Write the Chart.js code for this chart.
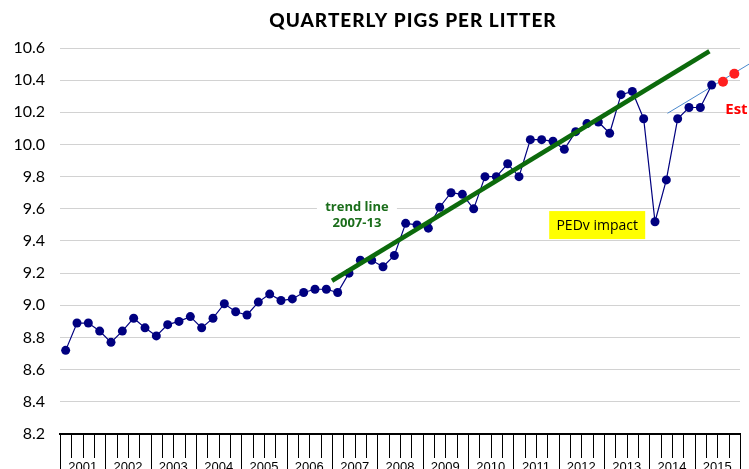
<!DOCTYPE html>
<html><head><meta charset="utf-8">
<script src="https://cdn.jsdelivr.net/npm/chart.js@4/dist/chart.umd.min.js"></script>
<style>html,body{margin:0;padding:0;background:#fff;overflow:hidden}</style>
</head><body>
<canvas id="c" width="749" height="469"></canvas>
<script>
// ---- data ----
const chartTitle = 'QUARTERLY PIGS PER LITTER';
const years = [2001,2002,2003,2004,2005,2006,2007,2008,2009,2010,2011,2012,2013,2014,2015];
// quarterly pigs per litter, 2001 Q1 .. 2015 Q2 (quarter index 0..57)
const pigsPerLitter = [
  8.72, 8.89, 8.89, 8.84,   // 2001
  8.77, 8.84, 8.92, 8.86,   // 2002
  8.81, 8.88, 8.90, 8.93,   // 2003
  8.86, 8.92, 9.01, 8.96,   // 2004
  8.94, 9.02, 9.07, 9.03,   // 2005
  9.04, 9.08, 9.10, 9.10,   // 2006
  9.08, 9.20, 9.28, 9.28,   // 2007
  9.24, 9.31, 9.51, 9.50,   // 2008
  9.48, 9.61, 9.70, 9.69,   // 2009
  9.60, 9.80, 9.80, 9.88,   // 2010
  9.80, 10.03, 10.03, 10.02,// 2011
  9.97, 10.08, 10.13, 10.14,// 2012
  10.07, 10.31, 10.33, 10.16,// 2013
  9.52, 9.78, 10.16, 10.23, // 2014
  10.23, 10.37              // 2015 H1
];
const estQuarterIdx = [58, 59];       // 2015 Q3, Q4
const estValues = [10.39, 10.44];
const trendQuarterIdx = [23.5, 56.8]; // trend line 2007-13
const trendValues = [9.153, 10.58];
const recentQuarterIdx = [53.1, 60.3];
const recentValues = [10.194, 10.50];
const yTicks = [8.2,8.4,8.6,8.8,9.0,9.2,9.4,9.6,9.8,10.0,10.2,10.4,10.6];

const pts = (xs, ys) => xs.map((x, i) => ({x: x, y: ys[i]}));

const decor = {
  id: 'decor',
  beforeDatasetsDraw(chart) {
    const ctx = chart.ctx, xs = chart.scales.x, ys = chart.scales.y;
    ctx.save();
    // trend label (white backing)
    let cx = xs.getPixelForValue(25.7), cy = ys.getPixelForValue(9.562);
    ctx.fillStyle = '#fff';
    ctx.fillRect(cx - 40, cy - 17, 80, 34);
    ctx.fillStyle = '#1b6e1b';
    ctx.font = 'bold 13px "Open Sans", sans-serif';
    ctx.textAlign = 'center';
    ctx.textBaseline = 'alphabetic';
    ctx.fillText('trend line', cx, cy - 4);
    ctx.fillText('2007-13', cx, cy + 12);
    // PEDv label
    cx = xs.getPixelForValue(46.9); cy = ys.getPixelForValue(9.499);
    ctx.fillStyle = '#ffff00';
    ctx.fillRect(cx - 48, cy - 14, 96, 28);
    ctx.fillStyle = '#000';
    ctx.font = '14px "Open Sans", sans-serif';
    ctx.fillText('PEDv impact', cx, cy + 5);
    ctx.restore();
  },
  afterDraw(chart) {
    const ctx = chart.ctx, xs = chart.scales.x, ys = chart.scales.y;
    const top = chart.chartArea.bottom;
    ctx.save();
    // quarter / year ticks
    ctx.strokeStyle = '#000';
    ctx.lineWidth = 1;
    for (let k = 0; k <= years.length * 4; k++) {
      const px = Math.round(xs.getPixelForValue(k - 0.5)) + 0.5;
      ctx.beginPath();
      ctx.moveTo(px, top);
      ctx.lineTo(px, k % 4 === 0 ? 469 : 458);
      ctx.stroke();
    }
    ctx.fillStyle = '#000';
    ctx.font = '13px "Liberation Sans", Arial, sans-serif';
    ctx.textAlign = 'center';
    ctx.textBaseline = 'alphabetic';
    years.forEach((yr, i) => {
      ctx.fillText(String(yr), xs.getPixelForValue(i * 4 + 1.5), 471);
    });
    // Est label
    ctx.fillStyle = '#ff0000';
    ctx.font = 'bold 15px "Open Sans", sans-serif';
    ctx.textAlign = 'left';
    ctx.fillText('Est', xs.getPixelForValue(58.2), ys.getPixelForValue(10.19));
    // title
    ctx.fillStyle = '#000';
    ctx.font = '900 19px Lato, sans-serif';
    ctx.letterSpacing = '1px';
    ctx.textAlign = 'center';
    ctx.fillText(chartTitle, 413, 27);
    ctx.restore();
  }
};

new Chart(document.getElementById('c'), {
  type: 'line',
  data: {
    datasets: [
      { label: 'Trend 2007-13', data: pts(trendQuarterIdx, trendValues), order: 0,
        borderColor: '#0c6a0c', borderWidth: 4.5, pointRadius: 0, tension: 0 },
      { label: 'Est', data: pts(estQuarterIdx, estValues), order: 1, showLine: false,
        pointRadius: 5, pointBackgroundColor: '#ff1f1f', pointBorderWidth: 0, borderColor: '#ff1f1f' },
      { label: 'Pigs per litter', data: pigsPerLitter.map((v, i) => ({x: i, y: v})), order: 2,
        borderColor: '#00007f', borderWidth: 1.2, pointRadius: 4.5,
        pointBackgroundColor: '#000080', pointBorderWidth: 0, tension: 0 },
      { label: 'Recent trend', data: pts(recentQuarterIdx, recentValues), order: 3, clip: false,
        borderColor: '#4a88cc', borderWidth: 1, pointRadius: 0 }
    ]
  },
  options: {
    responsive: false,
    animation: false,
    devicePixelRatio: 1,
    layout: { padding: { top: 48, right: 9, left: 0, bottom: 0 } },
    plugins: { legend: { display: false }, title: { display: false }, tooltip: { enabled: false } },
    scales: {
      x: {
        type: 'linear', min: -0.5, max: 59.5,
        ticks: { display: false },
        grid: { display: false },
        border: { display: true, color: '#000', width: 2 },
        afterFit(s) { s.height = 35; }
      },
      y: {
        min: 8.2, max: 10.6,
        afterBuildTicks(s) { s.ticks = yTicks.map(v => ({ value: v })); },
        ticks: { callback: v => Number(v).toFixed(1), color: '#000', padding: 15,
                 font: { family: 'Lato', size: 16 } },
        grid: { color: '#d2d2d2', lineWidth: 1, drawTicks: false },
        border: { display: false },
        afterFit(s) { s.width = 60; }
      }
    }
  },
  plugins: [decor]
});
</script>
</body></html>
